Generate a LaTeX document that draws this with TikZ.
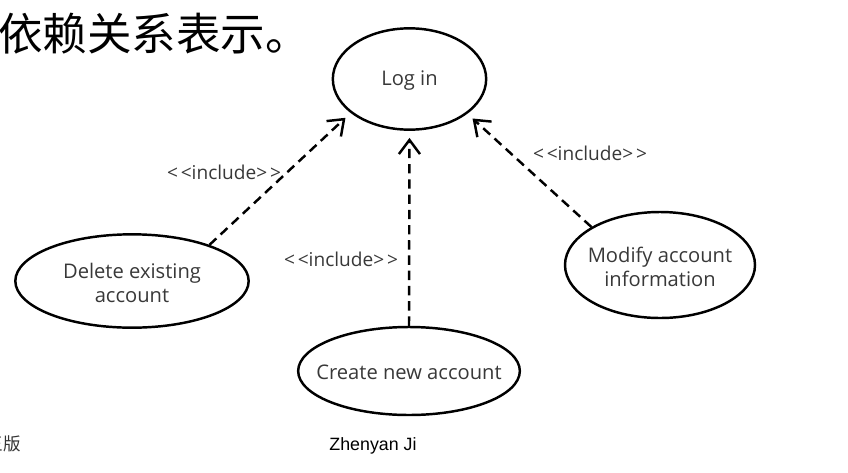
\documentclass[tikz,border=0pt]{standalone}
\usepackage{fontspec}
\setmainfont{Open Sans}
\newfontfamily\cjk{Noto Sans CJK SC}
\newfontfamily\arialfont{Liberation Sans}
\usetikzlibrary{shapes.geometric}
\usetikzlibrary{arrows.meta}
\newcommand{\incl}{<\kern2.4pt<include>\kern2.4pt>}

\begin{document}
\begin{tikzpicture}[x=0.03cm,y=-0.03cm,
    usecase/.style={ellipse,draw,line width=2.1pt,inner sep=0pt},
    usetext/.style={align=center,font=\fontsize{17.2}{20.5}\selectfont,text=black!78,yshift=-1.5pt},
    inclarrow/.style={line width=2.1pt,dash pattern=on 8pt off 5pt,
        -{Straight Barb[length=12pt,width=18pt,line width=2.1pt]},shorten >=6pt},
    incllabel/.style={font=\fontsize{16.3}{18}\selectfont,text=black!78}]
                \useasboundingbox (0,0) rectangle (848,472);

                \node[anchor=base west,inner sep=0pt,font=\cjk\fontsize{38}{40}\selectfont] (title) at (-2,50) {依赖关系表示。};

                \node[usecase,minimum width=4.6cm,minimum height=3.04cm,label={[usetext]center:Log in}] (login) at (409.5,79) {};
                \node[usecase,minimum width=7.0cm,minimum height=2.8cm,label={[usetext]center:Delete existing\\account}] (del) at (132,281) {};
                \node[usecase,minimum width=6.65cm,minimum height=2.64cm,label={[usetext]center:Create new account}] (create) at (409,371) {};
                \node[usecase,minimum width=5.7cm,minimum height=3.18cm,label={[usetext]center:Modify account\\information}] (modify) at (660,265) {};

                \draw[inclarrow] (del.25) -- (login.210);
                \draw[inclarrow] (create.north) -- (login.south);
                \draw[inclarrow] (modify.151) -- (login.329);

                \node[incllabel] (inclDel) at (224,172) {\incl};
                \node[incllabel] (inclCreate) at (341,259) {\incl};
                \node[incllabel] (inclModify) at (590,153) {\incl};

                \node[anchor=base,font=\arialfont\fontsize{15.2}{17}\selectfont] (author) at (373,450) {Zhenyan Ji};
                \node[anchor=base east,font=\cjk\fontsize{15}{17}\selectfont,text=black!80] (edition) at (25,450) {王版};
\end{tikzpicture}
\end{document}
